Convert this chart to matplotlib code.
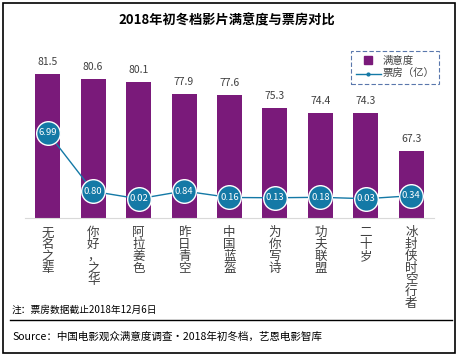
import matplotlib.pyplot as plt
from matplotlib.lines import Line2D
from matplotlib.patches import Rectangle
import numpy as np

plt.rcParams['font.family'] = ['Noto Sans CJK SC', 'DejaVu Sans']

films = ['无名之辈', '你好，之华', '阿拉姜色', '昨日青空', '中国蓝盔',
         '为你写诗', '功夫联盟', '二十岁', '冰封侠时空行者']
satisfaction = [81.5, 80.6, 80.1, 77.9, 77.6, 75.3, 74.4, 74.3, 67.3]
box_office = [6.99, 0.80, 0.02, 0.84, 0.16, 0.13, 0.18, 0.03, 0.34]

bar_color = '#7A1A7A'
line_color = '#1479A6'

fig = plt.figure(figsize=(4.59, 3.56), dpi=100)
ax = fig.add_axes([25 / 459, 1 - 218 / 356, 409 / 459, 190 / 356])
x = np.arange(len(films))

bars = ax.bar(x, satisfaction, width=0.55, color=bar_color, zorder=2)
for xi, v in zip(x, satisfaction):
    ax.annotate(f'{v:.1f}', (xi, v), xytext=(0, 5), textcoords='offset points',
                ha='center', va='bottom', fontsize=7.5, color='#404040')
ax.set_ylim(55, 90)
ax.set_xlim(-0.5, len(films) - 0.5)
ax.set_yticks([])
for s in ['left', 'right', 'top']:
    ax.spines[s].set_visible(False)
ax.spines['bottom'].set_color('#D9D9D9')
ax.set_xticks(x, ['\n'.join(n) for n in films])
ax.tick_params(axis='x', length=0, pad=6, labelsize=9, labelcolor='#404040')
for lbl in ax.get_xticklabels():
    lbl.set_linespacing(0.88)
    lbl.set_verticalalignment('top')

ax2 = ax.twinx()
ax2.plot(x, box_office, color=line_color, lw=1, marker='o', markersize=17,
         markerfacecolor=line_color, markeredgecolor='white', markeredgewidth=1,
         zorder=3)
for xi, v in zip(x, box_office):
    ax2.text(xi, v, f'{v:.2f}', ha='center', va='center', fontsize=6.8,
             color='white', zorder=4)
ax2.set_ylim(-2, 18)
ax2.set_yticks([])
for s in ['left', 'right', 'top', 'bottom']:
    ax2.spines[s].set_visible(False)

handles = [
    Line2D([], [], ls='none', marker='s', markersize=6, color=bar_color),
    Line2D([], [], color=line_color, lw=1, marker='o', markersize=2),
]
leg = ax2.legend(handles, ['满意度', '票房（亿）'], loc='upper center',
                 bbox_to_anchor=(395 / 459, 1 - 51 / 356),
                 bbox_transform=fig.transFigure,
                 fontsize=7.5, frameon=True, fancybox=False, borderpad=0.45,
                 handlelength=2.4, handletextpad=0.2, labelspacing=0.35,
                 borderaxespad=0)
frame = leg.get_frame()
frame.set_edgecolor('#2F5597')
frame.set_linestyle((0, (4, 2)))
frame.set_linewidth(0.8)
for t in leg.get_texts():
    t.set_color('#404040')

fig.text(227 / 459, 1 - 20 / 356, '2018年初冬档影片满意度与票房对比',
         ha='center', va='center', fontsize=9.5, fontweight='bold')
fig.text(12 / 459, 1 - 310 / 356, '注：票房数据截止2018年12月6日',
         ha='left', va='center', fontsize=7)
fig.add_artist(Line2D([10 / 459, 452 / 459], [1 - 320 / 356, 1 - 320 / 356],
                      transform=fig.transFigure, color='black', lw=1))
fig.text(12 / 459, 1 - 337 / 356, 'Source：中国电影观众满意度调查·2018年初冬档，艺恩电影智库',
         ha='left', va='center', fontsize=7.6)
fig.add_artist(Rectangle((3 / 459, 3 / 356), 452 / 459, 350 / 356,
                         transform=fig.transFigure, fill=False,
                         edgecolor='black', lw=1.2))

fig.savefig('out.png', dpi=100)
